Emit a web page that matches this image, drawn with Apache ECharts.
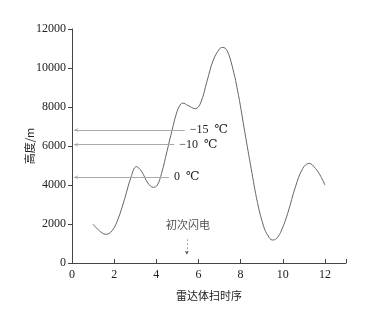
<!DOCTYPE html>
<html><head><meta charset="utf-8">
<script src="https://cdn.jsdelivr.net/npm/echarts@6/dist/echarts.min.js"></script>
<style>html,body{margin:0;padding:0;background:#fff}#c{width:366px;height:309px}</style>
</head><body><div id="c"></div>
<script>
var scanX = [1.0,1.3,1.6,1.9,2.2,2.5,2.8,3.05,3.3,3.6,3.87,4.05,4.25,4.5,4.75,4.95,5.1,5.25,5.5,5.85,6.1,6.4,6.7,7.0,7.15,7.35,7.6,7.9,8.2,8.5,8.8,9.1,9.3,9.5,9.7,9.95,10.25,10.6,10.95,11.25,11.55,11.8,12.0];
var heightM = [1990,1650,1470,1650,2300,3300,4400,4940,4700,4100,3880,4000,4600,5700,6820,7650,8050,8200,8080,7910,8200,9300,10400,10980,11060,10900,10100,8600,6700,4850,3100,1850,1400,1180,1250,1700,2600,3900,4850,5110,4850,4450,4000];
var isoNames = ['\u221215  \u2103','\u221210  \u2103','0  \u2103'];
var isoHeights = [6820, 6070, 4400];
var isoEndX = [5.35, 4.85, 4.6];
var flashX = 5.45;
var flashLabel = '初次闪电';
var xTicks = [0,2,4,6,8,10,12];
var yTicks = [0,2000,4000,6000,8000,10000,12000];

var chart = echarts.init(document.getElementById('c'));
var serif = "'Liberation Serif', 'DejaVu Serif', serif";
var isoLines = isoHeights.map(function(h,i){
  return [{coord:[0.1,h]}, {coord:[isoEndX[i],h]}];
});
chart.setOption({
  animation:false,
  backgroundColor:'#fff',
  grid:{left:72,right:20,top:29,bottom:46},
  xAxis:{type:'value',min:0,max:13,interval:2,
    name:'雷达体扫时序',nameLocation:'middle',nameGap:27,nameMoveOverlap:false,
    nameTextStyle:{fontFamily:'Noto Sans CJK SC',fontSize:11,color:'#222'},
    axisLine:{lineStyle:{color:'#444',width:1}},
    axisTick:{inside:true,length:4,lineStyle:{color:'#444'}},
    axisLabel:{fontFamily:serif,fontSize:12,color:'#222',margin:6,
      formatter:function(v){return xTicks.indexOf(v)>=0?String(v):'';}},
    splitLine:{show:false}},
  yAxis:{type:'value',min:0,max:12000,interval:2000,
    name:'高度/m',nameLocation:'middle',nameGap:37,nameRotate:90,nameMoveOverlap:false,
    nameTextStyle:{fontFamily:'Noto Sans CJK SC',fontSize:11,color:'#222'},
    axisLine:{show:true,lineStyle:{color:'#444',width:1}},
    axisTick:{show:true,length:4,lineStyle:{color:'#444'}},
    axisLabel:{fontFamily:serif,fontSize:12,color:'#222',margin:6,
      formatter:function(v){return yTicks.indexOf(v)>=0?String(v):'';}},
    splitLine:{show:false}},
  series:[
    {type:'line',smooth:0.4,symbol:'none',
     data:scanX.map(function(x,i){return [x,heightM[i]];}),
     lineStyle:{color:'#666',width:1},
     markLine:{silent:true,symbol:['arrow','none'],symbolSize:[3,4],
       lineStyle:{color:'#aaa',width:1,type:'solid'},
       label:{show:true,position:'end',distance:5,color:'#222',fontFamily:serif,fontSize:12,
         formatter:function(p){return isoNames[p.dataIndex];}},
       data:isoLines}},
    {type:'line',symbol:'none',data:[],
     markLine:{silent:true,symbol:['none','arrow'],symbolSize:[3,4],
       lineStyle:{color:'#555',width:1,type:[1,3]},
       label:{show:false},
       data:[[{coord:[flashX,1200]},{coord:[flashX,420]}]]}},
    {type:'scatter',symbolSize:0,silent:true,
     data:[[flashX+0.05,1950]],
     label:{show:true,position:'inside',formatter:flashLabel,fontFamily:'Noto Sans CJK SC',fontSize:11,color:'#222'}}
  ]
});
</script></body></html>
